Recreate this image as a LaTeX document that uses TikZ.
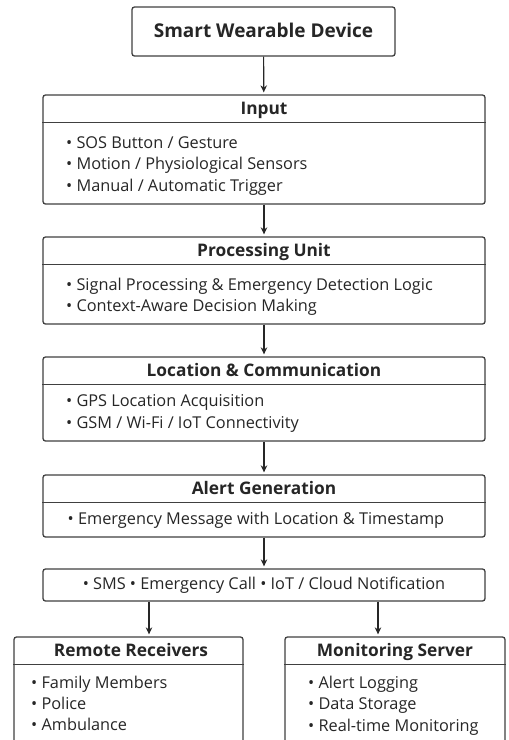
\documentclass[tikz,border=0pt]{standalone}
\usepackage{fontspec}
\setmainfont{Open Sans}
\usetikzlibrary{arrows.meta, calc}

\tikzset{
    panel/.style={draw=black!75, line width=1.3pt, rounded corners=2.5pt, inner sep=0pt, fill=white},
    headtxt/.style={font=\bfseries\fontsize{17.3}{19}\selectfont, text=black!85, inner sep=0pt, text height=14pt, text depth=2.5pt},
    itemtxt/.style={font=\fontsize{16.3}{21.3}\selectfont, text=black!85, align=left, anchor=west, inner sep=0pt},
    sep/.style={draw=black!75, line width=1.3pt},
    flow/.style={-{Stealth[length=7pt, width=6.5pt]}, draw=black!85, line width=1.2pt, shorten >=2pt}
}

\begin{document}
\begin{tikzpicture}[x=1pt, y=-1pt]
    \useasboundingbox (0,0) rectangle (509,740);
    \clip (0,0) rectangle (509,740);

    % Device
    \node[panel, minimum width=263pt, minimum height=49pt] (device) at (263.5, 31.5) {};
    \node[headtxt, font=\bfseries\fontsize{19}{21}\selectfont] (deviceHd) at (device.center) {Smart Wearable Device};

    % Input
    \node[panel, minimum width=442pt, minimum height=109pt] (input) at (264, 149.5) {};
    \node[headtxt] (inputHd) at (264, 109) {Input};
    \draw[sep] ($(input.north west)+(0,28)$) -- ($(input.north east)+(0,28)$);
    \node[itemtxt] (inputIt) at (66, 166) {• SOS Button / Gesture\\• Motion / Physiological Sensors\\• Manual / Automatic Trigger};

    % Processing Unit
    \node[panel, minimum width=442pt, minimum height=87pt] (proc) at (264, 280.5) {};
    \node[headtxt] (procHd) at (264, 251) {Processing Unit};
    \draw[sep] ($(proc.north west)+(0,28)$) -- ($(proc.north east)+(0,28)$);
    \node[itemtxt] (procIt) at (66, 297) {• Signal Processing \& Emergency Detection Logic\\• Context-Aware Decision Making};

    % Location & Communication
    \node[panel, minimum width=442pt, minimum height=84pt] (loc) at (264, 399) {};
    \node[headtxt] (locHd) at (264, 371) {Location \& Communication};
    \draw[sep] ($(loc.north west)+(0,28)$) -- ($(loc.north east)+(0,28)$);
    \node[itemtxt] (locIt) at (66, 413.5) {• GPS Location Acquisition\\• GSM / Wi-Fi / IoT Connectivity};

    % Alert Generation
    \node[panel, minimum width=442pt, minimum height=62pt] (alert) at (264, 506) {};
    \node[headtxt] (alertHd) at (264, 489) {Alert Generation};
    \draw[sep] ($(alert.north west)+(0,28)$) -- ($(alert.north east)+(0,28)$);
    \node[itemtxt, anchor=center] (alertIt) at (256, 520) {• Emergency Message with Location \& Timestamp};

    % Channels
    \node[panel, minimum width=442pt, minimum height=32pt] (sms) at (264, 585) {};
    \node[itemtxt, anchor=center] (smsIt) at (264, 585) {• SMS • Emergency Call • IoT / Cloud Notification};

    % Receivers
    \node[panel, minimum width=229pt, minimum height=133pt] (recv) at (128.5, 703.5) {};
    \node[headtxt] (recvHd) at (131, 651) {Remote Receivers};
    \draw[sep] ($(recv.north west)+(0,28)$) -- ($(recv.north east)+(0,28)$);
    \node[itemtxt] (recvIt) at (31, 703.5) {• Family Members\\• Police\\• Ambulance};

    \node[panel, minimum width=220pt, minimum height=133pt] (monitor) at (395, 703.5) {};
    \node[headtxt] (monitorHd) at (395, 651) {Monitoring Server};
    \draw[sep] ($(monitor.north west)+(0,28)$) -- ($(monitor.north east)+(0,28)$);
    \node[itemtxt] (monitorIt) at (308, 705.5) {• Alert Logging\\• Data Storage\\• Real-time Monitoring};

    % Connectors
    \draw[flow] (device) -- (input);
    \draw[flow] (input) -- (proc);
    \draw[flow] (proc) -- (loc);
    \draw[flow] (loc) -- (alert);
    \draw[flow] (alert) -- (sms);

    \coordinate (tapL) at (149, 0);
    \coordinate (tapR) at (378, 0);
    \draw[flow] (sms.south -| tapL) -- (recv.north -| tapL);
    \draw[flow] (sms.south -| tapR) -- (monitor.north -| tapR);
\end{tikzpicture}
\end{document}
